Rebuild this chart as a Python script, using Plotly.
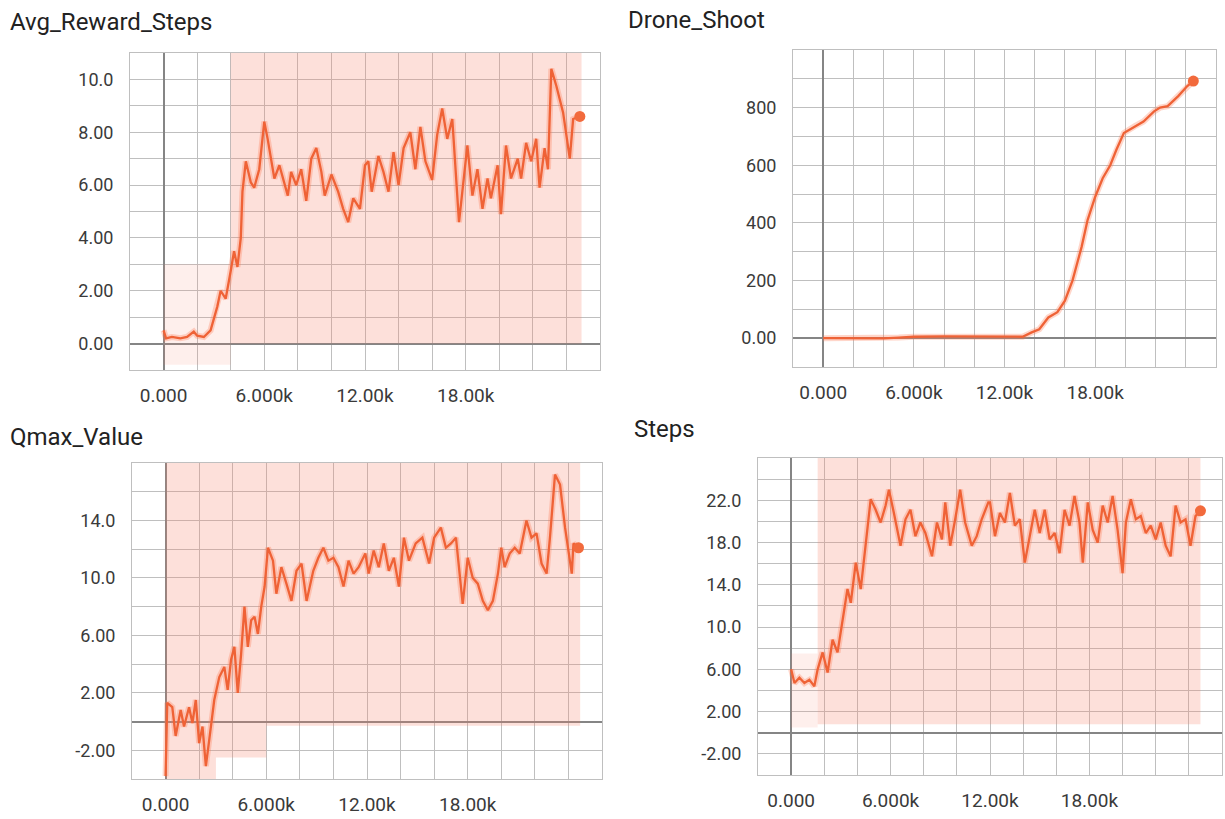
import plotly.graph_objects as go

# ---------------- data (x in steps) ----------------
reward_x = [0, 150, 500, 1000, 1400, 1800, 2000, 2400, 2800, 3200, 3400, 3700, 4000, 4200, 4400, 4600, 4700, 4900,
            5200, 5400, 5700, 6000, 6200, 6600, 6900, 7200, 7400, 7600, 7900, 8200, 8500, 8800, 9100, 9400, 9600,
            10000, 10400, 10700, 11000, 11300, 11700, 12000, 12200, 12400, 12800, 13100, 13400, 13700, 14000,
            14300, 14700, 15000, 15300, 15600, 16000, 16300, 16600, 16900, 17200, 17600, 17900, 18100, 18400,
            18700, 19000, 19300, 19500, 19900, 20100, 20400, 20700, 21100, 21300, 21600, 21900, 22200, 22400,
            22700, 22900, 23100, 23400, 23800, 24200, 24400, 24800]
reward_y = [0.5, 0.2, 0.25, 0.2, 0.25, 0.45, 0.3, 0.25, 0.5, 1.4, 2.0, 1.7, 2.75, 3.5, 2.9, 4.0, 5.75, 6.9,
            6.1, 5.9, 6.6, 8.4, 7.75, 6.25, 6.75, 6.0, 5.6, 6.5, 6.0, 6.6, 5.4, 7.0, 7.4, 6.5, 5.6,
            6.4, 5.75, 5.1, 4.6, 5.5, 5.1, 6.75, 6.9, 5.75, 7.1, 6.5, 5.75, 7.25, 6.0,
            7.4, 8.0, 6.6, 8.2, 6.9, 6.2, 7.9, 8.9, 7.75, 8.5, 4.6, 6.5, 7.5, 5.6,
            6.6, 5.1, 6.25, 5.5, 6.75, 4.9, 7.5, 6.25, 7.0, 6.25, 7.6, 6.9, 7.75, 5.9,
            7.4, 6.6, 10.4, 9.75, 8.75, 7.0, 8.5, 8.6]
reward_early_band_x = [0, 4000]
reward_early_band_lo = [-0.8, -0.8]
reward_early_band_hi = [3.0, 3.0]
reward_band_x = [4000, 24900]
reward_band_lo = [0.0, 0.0]
reward_band_hi = [11.5, 11.5]

drone_x = [0, 2000, 4000, 5000, 6000, 8000, 10000, 12000, 13200, 13800, 14300, 14900, 15500, 16000, 16500,
           17100, 17500, 18000, 18500, 19000, 19400, 19900, 20600, 21200, 21900, 22300, 22800, 23500, 24100, 24500]
drone_y = [0, 0, -1, 2, 5, 6, 6, 6, 5, 20, 31, 72, 90, 130, 200,
           316, 410, 490, 555, 600, 653, 712, 735, 752, 787, 800, 805, 840, 875, 892]

qmax_x = [0, 100, 400, 600, 900, 1100, 1400, 1600, 1800, 2000, 2200, 2400, 2600, 2900, 3200, 3500, 3700, 3900,
          4100, 4300, 4500, 4700, 4900, 5100, 5300, 5500, 5700, 5900, 6100, 6400, 6600, 6900, 7200, 7500, 7800,
          8100, 8400, 8800, 9100, 9400, 9700, 10000, 10300, 10600, 10900, 11200, 11500, 11900, 12100, 12400,
          12700, 13000, 13300, 13600, 13900, 14200, 14500, 14900, 15300, 15700, 16000, 16400, 16700, 17000,
          17300, 17500, 17700, 18000, 18300, 18600, 18900, 19200, 19500, 19800, 20000, 20200, 20500, 20800,
          21100, 21500, 21800, 22100, 22400, 22700, 22900, 23200, 23500, 23800, 24200, 24300, 24600]
qmax_y = [-3.8, 1.3, 1.0, -1.0, 0.8, -0.35, 1.0, -0.1, 1.5, -1.5, -0.35, -3.1, -1.3, 1.5, 3.1, 3.8, 2.2, 4.3,
          5.2, 2.0, 4.7, 8.0, 5.2, 7.05, 7.3, 6.1, 8.0, 9.4, 12.1, 11.2, 8.9, 10.75, 9.6, 8.4, 10.5,
          11.0, 8.4, 10.5, 11.4, 12.1, 11.2, 11.4, 10.75, 9.4, 11.2, 10.3, 10.75, 11.7, 10.3, 11.9,
          10.75, 12.4, 10.5, 11.4, 9.4, 12.8, 11.2, 12.4, 12.8, 11.0, 12.8, 13.5, 12.1, 12.4,
          12.8, 10.3, 8.2, 11.4, 10.0, 9.6, 8.4, 7.75, 8.4, 10.3, 12.1, 10.75, 11.7, 12.1,
          11.7, 14.0, 12.8, 13.1, 11.0, 10.3, 12.8, 17.2, 16.5, 13.5, 10.3, 12.4, 12.1]
qmax_band_x = [0, 3000, 6000, 24700]
qmax_band_lo = [-4.2, -2.5, -0.3, -0.3]
qmax_band_hi = [18.5, 18.5, 18.5, 18.5]

steps_x = [0, 200, 500, 800, 1100, 1400, 1600, 1900, 2200, 2500, 2800, 3100, 3400, 3600, 3900, 4200, 4500, 4800,
           5100, 5400, 5700, 5900, 6200, 6600, 6900, 7200, 7500, 7800, 8100, 8500, 8800, 9100, 9300, 9600,
           9900, 10200, 10500, 10900, 11200, 11500, 11900, 12000, 12300, 12600, 12900, 13200, 13500, 13800,
           14100, 14400, 14700, 15000, 15300, 15600, 15900, 16200, 16500, 16800, 17100, 17400, 17600, 17900,
           18200, 18500, 18800, 19100, 19400, 19700, 20000, 20200, 20500, 20800, 21100, 21400, 21700, 22000,
           22300, 22600, 22900, 23200, 23500, 23800, 24100, 24400, 24700]
steps_y = [6.0, 4.7, 5.2, 4.7, 5.0, 4.4, 6.0, 7.6, 5.7, 8.8, 7.6, 10.4, 13.6, 12.3, 16.1, 13.6, 18.0, 22.1,
           21.1, 19.9, 21.5, 23.0, 20.8, 17.7, 20.2, 21.1, 18.6, 19.9, 18.9, 16.7, 19.9, 18.3, 21.8, 17.7,
           20.2, 23.0, 19.9, 17.7, 18.6, 20.2, 21.8, 21.8, 18.6, 20.8, 19.9, 22.7, 19.6, 20.2,
           16.1, 18.6, 21.1, 18.9, 21.1, 18.3, 18.9, 17.0, 21.1, 19.6, 22.4, 19.9, 16.1, 21.8,
           19.2, 18.0, 21.5, 19.9, 22.4, 19.2, 15.1, 19.9, 22.1, 20.2, 20.5, 18.9, 19.6, 18.3,
           19.9, 17.7, 16.7, 21.5, 19.9, 20.2, 17.7, 20.5, 21.0]
steps_early_band_x = [0, 1600]
steps_early_band_lo = [0.5, 0.5]
steps_early_band_hi = [7.5, 7.5]
steps_band_x = [1600, 24700]
steps_band_lo = [0.8, 0.8]
steps_band_hi = [26.5, 26.5]

titles = ["Avg_Reward_Steps", "Drone_Shoot", "Qmax_Value", "Steps"]

x_grid = list(range(-2000, 26001, 2000))
x_labels = {0: "0.000", 6000: "6.000k", 12000: "12.00k", 18000: "18.00k"}

reward_ygrid = list(range(-1, 12, 1))
reward_ylabels = {0: "0.00", 2: "2.00", 4: "4.00", 6: "6.00", 8: "8.00", 10: "10.0"}
drone_ygrid = list(range(-100, 1001, 100))
drone_ylabels = {0: "0.00", 200: "200", 400: "400", 600: "600", 800: "800"}
qmax_ygrid = list(range(-4, 19, 2))
qmax_ylabels = {-2: "-2.00", 2: "2.00", 6: "6.00", 10: "10.0", 14: "14.0"}
steps_ygrid = list(range(-4, 27, 2))
steps_ylabels = {-2: "-2.00", 2: "2.00", 6: "6.00", 10: "10.0", 14: "14.0", 18: "18.0", 22: "22.0"}

# ---------------- styling ----------------
W, H = 1225, 819
LINE = "#ef6236"
HALO = "rgba(255,120,80,0.30)"
BAND = "rgba(247,131,107,0.25)"
BAND_LIGHT = "rgba(247,131,107,0.13)"
GRID = "#bfbfbf"
ZERO = "#858585"
FONT = "Roboto"

panels = [
    dict(px=(130, 600), py=(53, 370), yr=(-1, 11), x=reward_x, y=reward_y,
         bands=[(reward_early_band_x, reward_early_band_lo, reward_early_band_hi, BAND_LIGHT),
                (reward_band_x, reward_band_lo, reward_band_hi, BAND)],
         yg=reward_ygrid, yl=reward_ylabels, title_xy=(8, 22)),
    dict(px=(793, 1216), py=(50, 367), yr=(-100, 1000), x=drone_x, y=drone_y,
         bands=[], yg=drone_ygrid, yl=drone_ylabels, title_xy=(626, 20)),
    dict(px=(132, 602), py=(463, 779), yr=(-4, 18), x=qmax_x, y=qmax_y,
         bands=[(qmax_band_x, qmax_band_lo, qmax_band_hi, BAND)],
         yg=qmax_ygrid, yl=qmax_ylabels, title_xy=(8, 437)),
    dict(px=(758, 1222), py=(458, 775), yr=(-4, 26), x=steps_x, y=steps_y,
         bands=[(steps_early_band_x, steps_early_band_lo, steps_early_band_hi, BAND_LIGHT),
                (steps_band_x, steps_band_lo, steps_band_hi, BAND)],
         yg=steps_ygrid, yl=steps_ylabels, title_xy=(632, 429)),
]

fig = go.Figure()
layout = dict(width=W, height=H, margin=dict(l=0, r=0, t=0, b=0), paper_bgcolor="white",
              plot_bgcolor="white", showlegend=False, font=dict(family=FONT, color="#3a3a3a"))
annotations = []

for i, p in enumerate(panels):
    n = "" if i == 0 else str(i + 1)
    xa, ya = "x" + n, "y" + n
    for bx, blo, bhi, col in p["bands"]:
        fig.add_trace(go.Scatter(x=bx, y=blo, xaxis=xa, yaxis=ya, mode="lines",
                                 line=dict(width=0, shape="hv"), hoverinfo="skip"))
        fig.add_trace(go.Scatter(x=bx, y=bhi, xaxis=xa, yaxis=ya, mode="lines",
                                 line=dict(width=0, shape="hv"), fill="tonexty", fillcolor=col,
                                 hoverinfo="skip"))
    fig.add_trace(go.Scatter(x=p["x"], y=p["y"], xaxis=xa, yaxis=ya, mode="lines",
                             line=dict(color=HALO, width=6), hoverinfo="skip"))
    fig.add_trace(go.Scatter(x=p["x"], y=p["y"], xaxis=xa, yaxis=ya, mode="lines",
                             line=dict(color=LINE, width=2.3)))
    fig.add_trace(go.Scatter(x=[p["x"][-1]], y=[p["y"][-1]], xaxis=xa, yaxis=ya, mode="markers",
                             marker=dict(color="#f26a3c", size=11)))

    x0, x1 = p["px"]
    y0, y1 = p["py"]
    layout["xaxis" + n] = dict(
        domain=[x0 / W, x1 / W], range=[-2000, 26000], anchor=ya,
        tickmode="array", tickvals=x_grid, ticktext=[x_labels.get(v, "") for v in x_grid],
        showgrid=True, gridcolor=GRID, gridwidth=1.2, zeroline=True, zerolinecolor=ZERO, zerolinewidth=1.6,
        showline=True, linecolor=GRID, mirror=True, ticks="", ticklabelstandoff=8,
        tickfont=dict(family=FONT, size=19, color="#3a3a3a"), fixedrange=True)
    layout["yaxis" + n] = dict(
        domain=[1 - y1 / H, 1 - y0 / H], range=list(p["yr"]), anchor=xa,
        tickmode="array", tickvals=p["yg"], ticktext=[p["yl"].get(v, "") for v in p["yg"]],
        showgrid=True, gridcolor=GRID, gridwidth=1.2, zeroline=True, zerolinecolor=ZERO, zerolinewidth=1.6,
        showline=True, linecolor=GRID, mirror=True, ticks="", ticklabelstandoff=12,
        tickfont=dict(family=FONT, size=18, color="#3a3a3a"), fixedrange=True)
    tx, ty = p["title_xy"]
    annotations.append(dict(text=titles[i], x=tx / W, y=1 - ty / H, xref="paper", yref="paper",
                            xanchor="left", yanchor="middle", showarrow=False,
                            font=dict(family=FONT, size=24, color="#222222")))

layout["annotations"] = annotations
fig.update_layout(**layout)
fig.write_html("out.html", config={"displayModeBar": False},
               post_script="document.body.style.margin='0px';")
